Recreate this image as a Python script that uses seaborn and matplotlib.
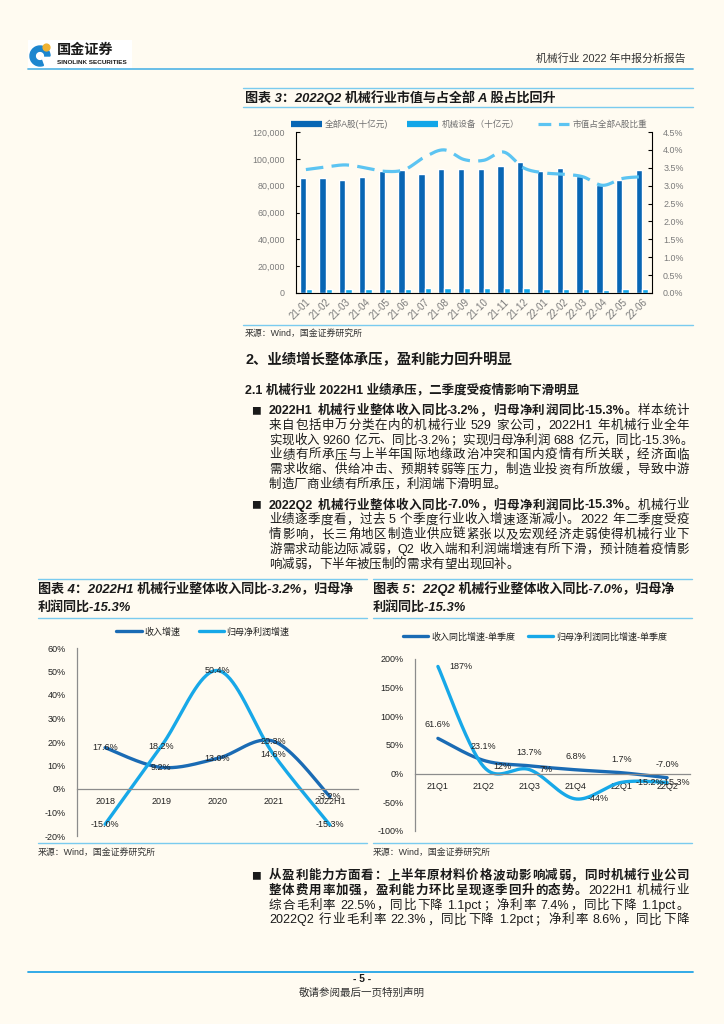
import numpy as np
import pandas as pd
import matplotlib
matplotlib.use("Agg")
import matplotlib.pyplot as plt
import seaborn as sns
from matplotlib.lines import Line2D
from matplotlib.patches import Wedge, Circle, Rectangle
from matplotlib.ticker import FuncFormatter

# -------------------------
# Data
# -------------------------
months = ["21-01", "21-02", "21-03", "21-04", "21-05", "21-06", "21-07", "21-08", "21-09",
          "21-10", "21-11", "21-12", "22-01", "22-02", "22-03", "22-04", "22-05", "22-06"]
all_a = [85900, 85900, 84200, 86100, 90800, 91600, 88400, 92100, 92100,
         92100, 95000, 97300, 90800, 93100, 86900, 80400, 84200, 91600]
machinery = [2960, 3020, 3010, 3010, 3090, 3160, 3360, 3680, 3440,
             3420, 3740, 3400, 3050, 3090, 2820, 2420, 2690, 2980]
ratio = [3.45, 3.52, 3.58, 3.50, 3.40, 3.45, 3.80, 4.00, 3.73,
         3.71, 3.94, 3.50, 3.36, 3.32, 3.25, 3.01, 3.20, 3.25]

years = ["2018", "2019", "2020", "2021", "2022H1"]
rev_year = [17.6, 9.2, 13.0, 20.3, -3.2]
profit_year = [-15.0, 18.2, 50.4, 14.6, -15.3]

quarters = ["21Q1", "21Q2", "21Q3", "21Q4", "22Q1", "22Q2"]
rev_q = [61.6, 23.1, 13.7, 6.8, 1.7, -7.0]
profit_q = [187, 12, 7, -44, -15.2, -15.3]
profit_q_labels = ["187%", "12%", "7%", "-44%", "-15.2%", "-15.3%"]

# -------------------------
# Page setup
# -------------------------
W, H = 724, 1024
BG = "#FFFBF1"
DARK = "#0866B4"
LIGHT = "#12A6E8"
PALE = "#5CC4F2"
RULE = "#7ACBEF"
REV = "#1A6BB4"
PRO = "#17A8E8"

sns.set_theme(style="white")
plt.rcParams["font.family"] = ["Liberation Sans", "Noto Sans CJK SC", "DejaVu Sans"]
plt.rcParams["axes.unicode_minus"] = False

fig = plt.figure(figsize=(W / 100, H / 100), dpi=100, facecolor=BG)
renderer = fig.canvas.get_renderer()


def fx(x):
    return x / W


def fy(y):
    return 1 - y / H


def hline(y, x0, x1, color=RULE, lw=1.0):
    fig.add_artist(Line2D([fx(x0), fx(x1)], [fy(y), fy(y)], color=color, lw=lw,
                          transform=fig.transFigure))


def txt(x, y, s, size, **kw):
    kw.setdefault("va", "center")
    kw.setdefault("color", "#1a1a1a")
    return fig.text(fx(x), fy(y), s, fontsize=size, **kw)


def smooth(xv, yv, n=40):
    """Excel-like smoothed line through the points (bezier / catmull-rom)."""
    p = np.column_stack([xv, yv]).astype(float)
    out = []
    for i in range(len(p) - 1):
        p0 = p[i - 1] if i > 0 else p[i]
        p1, p2 = p[i], p[i + 1]
        p3 = p[i + 2] if i + 2 < len(p) else p[i + 1]
        c1 = p1 + (p2 - p0) / 6
        c2 = p2 - (p3 - p1) / 6
        t = np.linspace(0, 1, n, endpoint=False)[:, None]
        out.append((1 - t) ** 3 * p1 + 3 * (1 - t) ** 2 * t * c1
                   + 3 * (1 - t) * t ** 2 * c2 + t ** 3 * p2)
    out.append(p[-1:])
    s = np.vstack(out)
    return pd.DataFrame({"x": s[:, 0], "y": s[:, 1]})


def tokenize(segments):
    """Split (text, bold) segments into CJK chars and latin runs."""
    toks = []
    for s, bold in segments:
        buf, buf_sp, sp = "", False, False
        for ch in s:
            if ch == " ":
                if buf:
                    toks.append((buf, bold, buf_sp))
                    buf = ""
                sp = True
            elif ord(ch) < 128:
                if not buf:
                    buf_sp, sp = sp, False
                buf += ch
            else:
                if buf:
                    toks.append((buf, bold, buf_sp))
                    buf = ""
                toks.append((ch, bold, sp))
                sp = False
        if buf:
            toks.append((buf, bold, buf_sp))
    return toks


def text_line(x0, y, segments, size=9.0, right=None):
    """Draw one line of body text, justified to `right` when given."""
    em = size * 100 / 72
    items = []
    for s, bold, sp in tokenize(segments):
        t = txt(x0, y, s, size, fontweight="bold" if bold else "normal")
        if ord(s[0]) < 128:
            w = t.get_window_extent(renderer=renderer).width + 0.02 * em
        else:
            w = em
        items.append((t, w, sp))
    space = 0.3 * em
    natural = sum(w + (space if sp else 0) for _, w, sp in items)
    extra = 0
    if right is not None and len(items) > 1:
        extra = max(0, (right - x0 - natural) / (len(items) - 1))
    cur = x0
    for t, w, sp in items:
        if sp:
            cur += space
        t.set_x(fx(cur))
        cur += w + extra


# -------------------------
# Header
# -------------------------
ax_logo = fig.add_axes([fx(28), fy(69), fx(104), 29 / H])
ax_logo.set_xlim(28, 132)
ax_logo.set_ylim(69, 40)
ax_logo.axis("off")
ax_logo.add_patch(Rectangle((28, 40), 104, 28, color="white", zorder=0))
ax_logo.add_patch(Wedge((40, 56), 10, 70, 360, width=5.2, color="#1C86CF", zorder=2))
ax_logo.add_patch(Circle((46.5, 47.5), 3.4, color="#F0B232", zorder=3))
txt(57, 50, "国金证券", 10.2, fontweight="bold", family=["Noto Sans CJK SC"])
txt(57, 63, "SINOLINK SECURITIES", 4.6, fontweight="bold")
txt(686, 58, "机械行业 2022 年中报分析报告", 7.8, ha="right", color="#333333")
hline(69, 28, 693, color="#5DB9E7", lw=1.3)

# -------------------------
# Chart 3: market value bars + ratio line
# -------------------------
hline(88, 243, 693)
hline(107, 243, 693)
txt(245, 97.5, "图表 3：2022Q2 机械行业市值与占全部 A 股占比回升", 9.4,
    fontweight="bold", style="italic")

ax3 = fig.add_axes([fx(296), fy(293), (652 - 296) / W, (293 - 132) / H])
ax3.set_facecolor("none")
bars = pd.DataFrame({
    "month": months * 2,
    "value": all_a + machinery,
    "series": ["全部A股(十亿元)"] * len(months) + ["机械设备（十亿元）"] * len(months),
})
sns.barplot(data=bars, x="month", y="value", hue="series", palette=[DARK, LIGHT],
            width=0.64, saturation=1, legend=False, ax=ax3)
ax3.set_ylim(0, 120000)
ax3.set_yticks(np.arange(0, 120001, 20000))
ax3.yaxis.set_major_formatter(FuncFormatter(lambda v, _: f"{int(v):,}"))
ax3.set_xlabel("")
ax3.set_ylabel("")
ax3.tick_params(axis="y", direction="in", length=3, width=0.8, colors="black",
                labelcolor="#7a7a7a", labelsize=6.4, pad=8)
ax3.tick_params(axis="x", length=0, labelcolor="#7a7a7a", labelsize=7.0, pad=3)
for lab in ax3.get_xticklabels():
    lab.set_rotation(45)
    lab.set_ha("right")
    lab.set_rotation_mode("anchor")
for side in ["top", "right"]:
    ax3.spines[side].set_visible(False)
for side in ["left", "bottom"]:
    ax3.spines[side].set_color("black")
    ax3.spines[side].set_linewidth(0.8)

ax3r = ax3.twinx()
ratio_line = smooth(np.arange(len(months)), ratio)
sns.lineplot(data=ratio_line, x="x", y="y", ax=ax3r, color=PALE, lw=2.3,
             linestyle=(0, (5.5, 2.6)), estimator=None, sort=False)
ax3r.set_ylim(0, 4.5)
ax3r.set_yticks(np.arange(0, 4.51, 0.5))
ax3r.yaxis.set_major_formatter(FuncFormatter(lambda v, _: f"{v:.1f}%"))
ax3r.set_ylabel("")
ax3r.tick_params(axis="y", direction="in", length=3, width=0.8, colors="black",
                 labelcolor="#7a7a7a", labelsize=6.4, pad=8)
for side in ["top", "left", "bottom"]:
    ax3r.spines[side].set_visible(False)
ax3r.spines["right"].set_color("black")
ax3r.spines["right"].set_linewidth(0.8)
ax3.set_xlim(-0.5, len(months) - 0.5)

h3 = [Line2D([], [], color=DARK, lw=4.5, solid_capstyle="butt"),
      Line2D([], [], color=LIGHT, lw=4.5, solid_capstyle="butt"),
      Line2D([], [], color=PALE, lw=2.3, linestyle=(0, (4, 2.4)))]
fig.legend(h3, ["全部A股(十亿元)", "机械设备（十亿元）", "市值占全部A股比重"], loc="center",
           bbox_to_anchor=(fx(469), fy(124)), ncol=3, frameon=False, fontsize=6.2,
           handlelength=3.6, handletextpad=0.4, columnspacing=2.2, labelcolor="#707070")

hline(325, 243, 693)
txt(245, 333.5, "来源：Wind，国金证券研究所", 6.4, color="#333333")

# -------------------------
# Body text
# -------------------------
txt(245, 360, "2、业绩增长整体承压，盈利能力回升明显", 10.4, fontweight="bold")
txt(245, 390, "2.1 机械行业 2022H1 业绩承压，二季度受疫情影响下滑明显", 9.0, fontweight="bold")

para1 = [
    [("2022H1 机械行业整体收入同比-3.2%，归母净利润同比-15.3%。", True), ("样本统计", False)],
    [("来自包括申万分类在内的机械行业 529 家公司，2022H1 年机械行业全年", False)],
    [("实现收入 9260 亿元、同比-3.2%；实现归母净利润 688 亿元，同比-15.3%。", False)],
    [("业绩有所承压与上半年国际地缘政治冲突和国内疫情有所关联，经济面临", False)],
    [("需求收缩、供给冲击、预期转弱等压力，制造业投资有所放缓，导致中游", False)],
    [("制造厂商业绩有所承压，利润端下滑明显。", False)],
]
para2 = [
    [("2022Q2 机械行业整体收入同比-7.0%，归母净利润同比-15.3%。", True), ("机械行业", False)],
    [("业绩逐季度看，过去 5 个季度行业收入增速逐渐减小。2022 年二季度受疫", False)],
    [("情影响，长三角地区制造业供应链紧张以及宏观经济走弱使得机械行业下", False)],
    [("游需求动能边际减弱，Q2 收入端和利润端增速有所下滑，预计随着疫情影", False)],
    [("响减弱，下半年被压制的需求有望出现回补。", False)],
]
para3 = [
    [("从盈利能力方面看：上半年原材料价格波动影响减弱，同时机械行业公司", True)],
    [("整体费用率加强，盈利能力环比呈现逐季回升的态势。", True), ("2022H1 机械行业", False)],
    [("综合毛利率 22.5%，同比下降 1.1pct；净利率 7.4%，同比下降 1.1pct。", False)],
    [("2022Q2 行业毛利率 22.3%，同比下降 1.2pct；净利率 8.6%，同比下降", False)],
]

for y0, para, last_open in [(411, para1, False), (505.5, para2, False), (876, para3, True)]:
    txt(251, y0, "■", 7.0, family=["Noto Sans CJK SC"])
    for i, segs in enumerate(para):
        is_last = (i == len(para) - 1) and not last_open
        text_line(269, y0 + i * 14.8, segs, size=9.0, right=None if is_last else 689)

# -------------------------
# Chart 4 and 5 frames
# -------------------------
for x0, x1 in [(38, 367), (373, 692)]:
    hline(579, x0, x1)
    hline(618, x0, x1)
    hline(843, x0, x1)
    txt(x0, 852, "来源：Wind，国金证券研究所", 6.4, color="#333333")

txt(38, 589, "图表 4：2022H1 机械行业整体收入同比-3.2%，归母净", 9.4,
    fontweight="bold", style="italic")
txt(38, 607, "利润同比-15.3%", 9.4, fontweight="bold", style="italic")
txt(373, 589, "图表 5：22Q2 机械行业整体收入同比-7.0%，归母净", 9.4,
    fontweight="bold", style="italic")
txt(373, 607, "利润同比-15.3%", 9.4, fontweight="bold", style="italic")


def growth_axes(rect, cats, ylim, ystep):
    ax = fig.add_axes(rect)
    ax.set_facecolor("none")
    ax.set_xlim(-0.5, len(cats) - 0.5)
    ax.set_ylim(*ylim)
    ax.set_yticks(np.arange(ylim[0], ylim[1] + 1, ystep))
    ax.yaxis.set_major_formatter(FuncFormatter(lambda v, _: f"{int(v)}%"))
    ax.set_xticks(np.arange(-0.5, len(cats), 1))
    ax.set_xticklabels([])
    ax.set_xticks(np.arange(len(cats)), minor=True)
    ax.set_xticklabels(cats, minor=True)
    ax.tick_params(axis="x", which="major", direction="in", length=3, color="#808080")
    ax.tick_params(axis="x", which="minor", length=0, labelsize=6.5, labelcolor="#222222", pad=6)
    ax.tick_params(axis="y", direction="in", length=3, color="#808080",
                   labelsize=6.5, labelcolor="#222222", pad=8)
    ax.spines["bottom"].set_position(("data", 0))
    for side in ["top", "right"]:
        ax.spines[side].set_visible(False)
    for side in ["left", "bottom"]:
        ax.spines[side].set_color("#8c8c8c")
        ax.spines[side].set_linewidth(0.9)
    return ax


# -------------------------
# Chart 4: annual growth
# -------------------------
ax4 = growth_axes([fx(77), fy(836), (358 - 77) / W, (836 - 648) / H], years, (-20, 60), 10)
sns.lineplot(data=smooth(np.arange(5), rev_year), x="x", y="y", ax=ax4, color=REV,
             lw=2.4, estimator=None, sort=False)
sns.lineplot(data=smooth(np.arange(5), profit_year), x="x", y="y", ax=ax4, color=PRO,
             lw=2.4, estimator=None, sort=False)
ax4.set_xlabel("")
ax4.set_ylabel("")
for i, v in enumerate(rev_year):
    ax4.text(i, v, f"{v:.1f}%", ha="center", va="center", fontsize=6.5, color="#222222")
for i, v in enumerate(profit_year):
    ax4.text(i, v, f"{v:.1f}%", ha="center", va="center", fontsize=6.5, color="#222222")

h4 = [Line2D([], [], color=REV, lw=2.4), Line2D([], [], color=PRO, lw=2.4)]
fig.legend(h4, ["收入增速", "归母净利润增速"], loc="center", bbox_to_anchor=(fx(203), fy(632)),
           ncol=2, frameon=False, fontsize=6.5, handlelength=2.8, handletextpad=0.3,
           columnspacing=2.0, labelcolor="#222222")

# -------------------------
# Chart 5: quarterly growth
# -------------------------
ax5 = growth_axes([fx(415), fy(831), (690 - 415) / W, (831 - 659) / H], quarters, (-100, 200), 50)
sns.lineplot(data=smooth(np.arange(6), rev_q), x="x", y="y", ax=ax5, color=REV,
             lw=2.4, estimator=None, sort=False)
sns.lineplot(data=smooth(np.arange(6), profit_q), x="x", y="y", ax=ax5, color=PRO,
             lw=2.4, estimator=None, sort=False)
ax5.set_xlabel("")
ax5.set_ylabel("")
for i, v in enumerate(rev_q):
    ax5.annotate(f"{v:.1f}%", (i, v), xytext=(0, 9.8), textcoords="offset points",
                 ha="center", va="center", fontsize=6.5, color="#222222")
profit_dx = [8.5, 7, 7, 8.5, 10, -4]
for i, v in enumerate(profit_q):
    ax5.annotate(profit_q_labels[i], (i, v), xytext=(profit_dx[i], 0), textcoords="offset points",
                 ha="left", va="center", fontsize=6.5, color="#222222")

fig.legend(h4, ["收入同比增速-单季度", "归母净利润同比增速-单季度"], loc="center",
           bbox_to_anchor=(fx(535), fy(637)), ncol=2, frameon=False, fontsize=6.5,
           handlelength=2.8, handletextpad=0.3, columnspacing=1.4, labelcolor="#222222")

# -------------------------
# Footer
# -------------------------
hline(972, 28, 693, color="#22A4E6", lw=1.3)
txt(362, 979.5, "- 5 -", 7.4, ha="center", fontweight="bold")
txt(362, 993, "敬请参阅最后一页特别声明", 7.6, ha="center", color="#333333")

fig.savefig("out.png", dpi=100, facecolor=BG)
